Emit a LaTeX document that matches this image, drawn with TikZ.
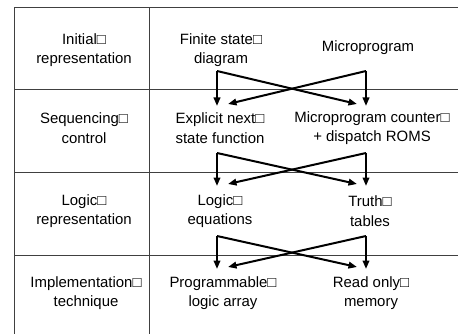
\documentclass[tikz,border=0pt]{standalone}
\usepackage{fontspec}
\setmainfont{Liberation Sans}
\usetikzlibrary{arrows.meta}

\tikzset{
	cell/.style={align=center, inner sep=0pt, font=\fontsize{8.5}{11.1}\selectfont},
	rule/.style={draw=black!75, line width=0.2mm},
	flow/.style={line width=0.4mm, -{Triangle[length=1.7mm, width=1.3mm]}},
}

\begin{document}
\begin{tikzpicture}[x=0.2mm, y=-0.2mm]
		\useasboundingbox (0,0) rectangle (458,334);
		
		% table rules
		\draw[rule] (14,8) -- (458,8);
		\draw[rule] (14,90) -- (458,90);
		\draw[rule] (14,172) -- (458,172);
		\draw[rule] (14,255) -- (458,255);
		\draw[rule] (14,8) -- (14,334);
		\draw[rule] (149,8) -- (149,334);
		
		% row labels
		\node[cell] (lab1) at (84,50) {Initial□\\representation};
		\node[cell] (lab2) at (84,128) {Sequencing□\\control};
		\node[cell] (lab3) at (84,211) {Logic□\\representation};
		\node[cell] (lab4) at (86,293) {Implementation□\\technique};
		
		% choices
		\node[cell] (fsd) at (221,50) {Finite state□\\diagram};
		\node[cell] (mp) at (368,48) {Microprogram};
		\node[cell] (enf) at (220,128) {Explicit next□\\state function};
		\node[cell] (mpc) at (372,128) {Microprogram counter□\\+ dispatch ROMS};
		\node[cell] (le) at (220,211) {Logic□\\equations};
		\node[cell] (tt) at (370,211) {Truth□\\tables};
		\node[cell] (pla) at (223,293) {Programmable□\\logic array};
		\node[cell] (rom) at (371,293) {Read only□\\memory};
		
		% corners and tips
		\coordinate (a1) at (217,71);
		\coordinate (b1) at (366,71);
		\coordinate (a1v) at (217,106);
		\coordinate (a1d) at (357,104);
		\coordinate (b1v) at (366,106);
		\coordinate (b1d) at (228,104);
		
		\coordinate (a2) at (217,153);
		\coordinate (b2) at (366,153);
		\coordinate (a2v) at (217,186);
		\coordinate (a2d) at (357,184);
		\coordinate (b2v) at (366,186);
		\coordinate (b2d) at (228,184);
		
		\coordinate (a3) at (217,236);
		\coordinate (b3) at (366,236);
		\coordinate (a3v) at (217,269);
		\coordinate (a3d) at (357,267);
		\coordinate (b3v) at (366,269);
		\coordinate (b3d) at (228,267);
		
		\draw[flow] (a1) -- (a1v);
		\draw[flow] (a1) -- (a1d);
		\draw[flow] (b1) -- (b1v);
		\draw[flow] (b1) -- (b1d);
		
		\draw[flow] (a2) -- (a2v);
		\draw[flow] (a2) -- (a2d);
		\draw[flow] (b2) -- (b2v);
		\draw[flow] (b2) -- (b2d);
		
		\draw[flow] (a3) -- (a3v);
		\draw[flow] (a3) -- (a3d);
		\draw[flow] (b3) -- (b3v);
		\draw[flow] (b3) -- (b3d);
		
\end{tikzpicture}
\end{document}
